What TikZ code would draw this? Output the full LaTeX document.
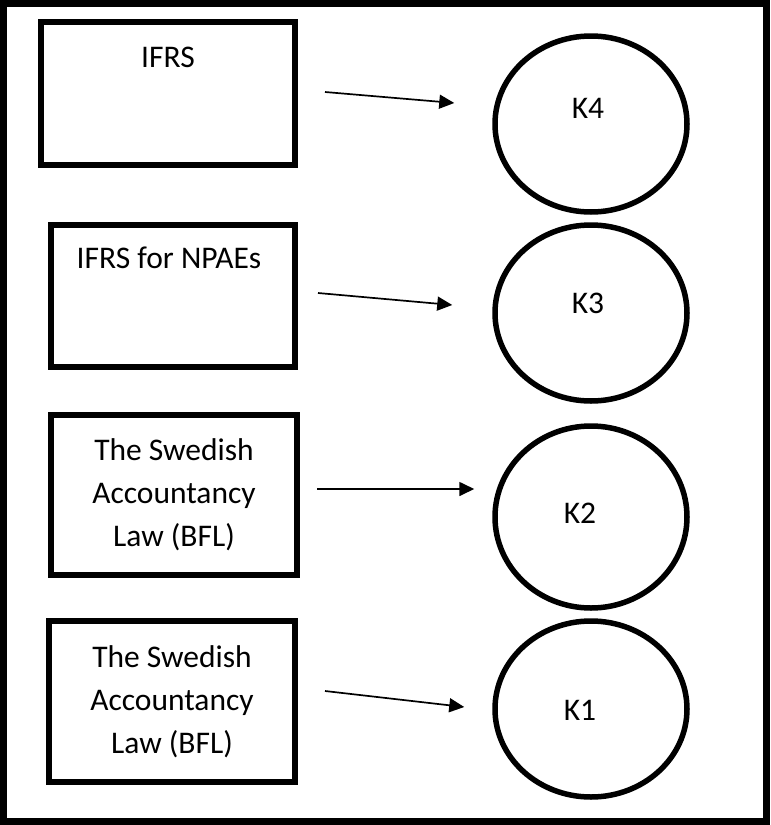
\documentclass[tikz,border=0pt]{standalone}
\usepackage{fontspec}
\setmainfont{Carlito}
\usepackage{tikz}
\usetikzlibrary{arrows.meta}
\usetikzlibrary{shapes.geometric}
\tikzset{
  lawbox/.style={draw, line width=6pt, rectangle, inner sep=0pt, align=center},
  kcircle/.style={draw, line width=5.5pt, ellipse, inner sep=0pt, minimum width=192pt},
  boxtext/.style={inner sep=0pt, align=center, font=\fontsize{31.5}{43}\selectfont},
  flowarrow/.style={line width=1.7pt, -{Triangle[length=15pt, width=14pt]}}
}

\begin{document}
\begin{tikzpicture}[x=1pt, y=-1pt]
    \useasboundingbox (0,0) rectangle (771,825);
    \draw [line width=7pt] (3.5,3.5) rectangle (766.5,821);
    % standards, from top to bottom
    \node [lawbox, minimum width=254pt, minimum height=143pt] (ifrs) at (168,93.5) {};
    \node [boxtext] (ifrstext) at ([shift={(0,-36.5)}]ifrs.center) {IFRS};
    \node [lawbox, minimum width=244pt, minimum height=142pt] (npae) at (173,296) {};
    \node [boxtext] (npaetext) at ([shift={(-4,-38)}]npae.center) {IFRS for NPAEs};
    \node [lawbox, boxtext, line width=6pt, minimum width=246pt, minimum height=160pt] (bflk2) at (174,495) {The Swedish\\Accountancy\\Law (BFL)};
    \node [lawbox, boxtext, line width=6pt, minimum width=246pt, minimum height=161pt] (bflk1) at (172,701.5) {The Swedish\\Accountancy\\Law (BFL)};
    % categories
    \node [kcircle, minimum height=176pt] (k4) at (591,124) {};
    \node [boxtext] (k4text) at ([shift={(-3,-16)}]k4.center) {K4};
    \node [kcircle, minimum height=176pt] (k3) at (591,313) {};
    \node [boxtext] (k3text) at ([shift={(-3,-10)}]k3.center) {K3};
    \node [kcircle, minimum height=182pt] (k2) at (591,517) {};
    \node [boxtext] (k2text) at ([shift={(-11,-4)}]k2.center) {K2};
    \node [kcircle, minimum height=176pt] (k1) at (591,709) {};
    \node [boxtext] (k1text) at ([shift={(-11,1)}]k1.center) {K1};
    % arrows
    \coordinate (s4) at ([shift={(27,-1.5)}]ifrs.east);
    \coordinate (e4) at ([shift={(-38,-21)}]k4.west);
    \coordinate (s3) at ([shift={(20,-3)}]npae.east);
    \coordinate (e3) at ([shift={(-40,-8)}]k3.west);
    \coordinate (s2) at ([shift={(17,-6)}]bflk2.east);
    \coordinate (e2) at ([shift={(-18,-28)}]k2.west);
    \coordinate (s1) at ([shift={(27,-10.5)}]bflk1.east);
    \coordinate (e1) at ([shift={(-28,-2)}]k1.west);
    \draw [flowarrow] (s4) -- (e4);
    \draw [flowarrow] (s3) -- (e3);
    \draw [flowarrow] (s2) -- (e2);
    \draw [flowarrow] (s1) -- (e1);
\end{tikzpicture}
\end{document}
